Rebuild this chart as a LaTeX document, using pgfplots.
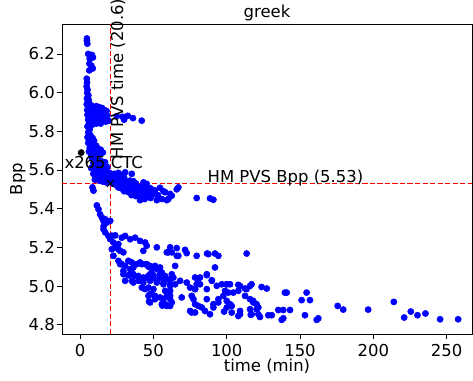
\documentclass[border=0pt]{standalone}
\usepackage{fontspec}
\setmainfont{DejaVu Sans}
\usepackage{pgfplots}
\usepackage{pgfplotstable}
\pgfplotsset{compat=1.18}
\definecolor{mblue}{RGB}{0,0,255}
\definecolor{mred}{RGB}{255,0,0}
\pgfplotstableread{
t b
4.6 6.28
4.6 6.268
4.9 6.253
5.5 6.200
8.0 6.195
8.7 6.182
6.5 6.175
6.3 6.150
7.6 6.140
8.6 6.125
6.2 6.115
4.5 6.072
4.7 6.052
4.4 6.032
5.0 6.015
4.8 5.998
5.6 5.985
4.6 5.970
5.9 5.960
5.2 5.950
4.5 5.940
6.0 5.930
7.5 5.935
9.0 5.925
11.0 5.930
13.0 5.925
15.0 5.920
4.8 5.910
6.5 5.905
8.0 5.900
10.0 5.910
12.0 5.900
14.5 5.905
16.5 5.910
18.0 5.905
5.0 5.885
7.0 5.880
9.0 5.875
11.5 5.880
13.5 5.885
16.0 5.875
18.5 5.880
5.5 5.860
7.5 5.855
10.0 5.855
12.5 5.860
15.0 5.855
17.5 5.850
19.5 5.855
6.0 5.840
8.5 5.835
11.0 5.840
14.0 5.840
25.0 5.878
29.0 5.875
32.5 5.880
36.0 5.868
30.0 5.860
42.0 5.855
5.0 5.825
6.5 5.810
5.5 5.795
7.0 5.780
5.0 5.770
8.5 5.765
6.0 5.755
9.5 5.750
5.5 5.740
7.0 5.735
9.0 5.730
11.0 5.725
6.5 5.715
8.5 5.710
12.0 5.710
14.0 5.705
6.0 5.695
8.0 5.690
10.5 5.690
13.0 5.685
15.5 5.690
7.5 5.675
10.0 5.670
12.5 5.675
8.0 5.660
10.0 5.655
12.0 5.650
14.5 5.645
17.0 5.640
9.0 5.635
11.5 5.630
13.5 5.625
16.0 5.620
18.5 5.615
7.5 5.610
10.0 5.605
12.5 5.600
15.0 5.595
17.5 5.590
20.0 5.585
9.0 5.580
11.0 5.575
14.0 5.570
16.5 5.565
19.0 5.560
21.5 5.555
10.0 5.550
13.0 5.545
15.5 5.540
18.0 5.535
22.0 5.530
30.7 5.588
35.2 5.580
23 5.580
26 5.585
28 5.575
21 5.565
24 5.560
27 5.565
30 5.560
19 5.550
22 5.545
25 5.550
28 5.545
31 5.540
34 5.545
36.3 5.542
24 5.525
26 5.530
29 5.525
32 5.520
35 5.525
38 5.530
43.2 5.536
45.4 5.528
26 5.510
28 5.505
30 5.510
33 5.500
36 5.505
39 5.510
42 5.515
45 5.510
48 5.505
30 5.490
33 5.485
36 5.490
39 5.480
42 5.490
45 5.485
48 5.490
51 5.495
35 5.470
38 5.465
41 5.470
44 5.465
47 5.470
50 5.475
53 5.470
40.9 5.444
44 5.450
48 5.455
52.3 5.444
54.5 5.508
56.8 5.490
58 5.485
61.4 5.476
62.5 5.467
65.9 5.500
67.0 5.510
60.2 5.450
59.1 5.444
55.7 5.450
79.5 5.455
88.6 5.453
90.9 5.446
8.4 5.510
9.1 5.493
11.4 5.417
12.5 5.397
13.6 5.371
14.8 5.354
15.9 5.336
17.1 5.345
18.2 5.328
20.5 5.337
15.9 5.294
17.1 5.277
16.0 5.310
19.3 5.259
20.5 5.242
22.7 5.225
21.6 5.190
23.9 5.200
26.1 5.190
27.3 5.182
29.5 5.174
22.7 5.156
28.4 5.250
30.7 5.259
34.1 5.242
37.5 5.250
40.9 5.233
44.3 5.225
21.6 5.260
23.9 5.262
26.1 5.217
43.1 5.182
45.4 5.208
52.3 5.200
60.2 5.174
61.4 5.200
65.9 5.156
65.9 5.196
71.6 5.187
72.7 5.170
79.5 5.156
86.6 5.168
92.0 5.168
94.3 5.156
113.6 5.168
59.1 5.174
62.5 5.174
67.0 5.156
87.5 5.165
26.1 5.130
28.4 5.113
30.7 5.104
29.5 5.078
32.9 5.130
35.2 5.070
36.3 5.096
40.9 5.122
44.3 5.113
47.7 5.104
52.3 5.087
55.7 5.070
27.3 5.113
34.1 5.087
38.6 5.113
46.6 5.100
48.9 5.087
51.1 5.104
54.5 5.096
64.8 5.104
92.0 5.096
35.2 5.122
42.1 5.113
45.5 5.113
29.5 5.061
32.9 5.056
36.3 5.061
39.7 5.052
43.1 5.044
46.6 5.052
50.0 5.056
54.5 5.044
57.9 5.052
61.4 5.035
30.7 5.027
35.2 5.027
39.7 5.027
43.1 5.018
47.7 5.027
52.3 5.018
56.8 5.009
61.4 5.001
64.8 5.009
35.2 5.061
37.5 5.052
36.3 5.018
43.2 5.035
45.5 5.044
47.7 5.061
50.0 5.044
52.3 5.027
54.5 5.061
55.7 5.044
56.8 5.018
59.1 5.035
62.5 5.061
63.6 5.044
61.4 5.009
68.2 5.027
72.7 5.018
78.4 5.044
81.8 5.044
86.4 5.061
89.8 5.027
80.6 5.018
81.8 5.009
93.2 5.001
96.6 5.009
100.0 5.009
86.4 5.056
89.8 5.030
42.1 4.992
44.3 4.984
46.6 4.992
50.0 4.984
58.0 4.975
61.4 4.975
69.3 4.941
75.0 4.992
78.4 4.984
86.4 4.984
94.3 4.932
47.7 4.958
51.1 4.949
54.5 4.941
56.8 4.932
61.4 4.949
62.5 4.915
47.7 4.915
55.7 4.906
59.1 4.897
77.3 4.932
78.4 4.906
80.6 4.897
83.0 4.889
86.4 4.932
90.9 4.906
94.3 4.915
75.0 4.871
76.1 4.863
85.2 4.871
88.6 4.854
90.9 4.889
46.6 4.949
48.9 4.958
51.1 4.932
59.1 4.949
61.4 4.932
57.9 4.906
61.4 4.897
76.1 4.949
78.4 4.984
79.5 5.009
78.4 4.863
97.7 4.949
100.0 4.889
103.4 4.863
109.1 4.871
109.1 5.000
113.6 4.984
112.5 4.949
117.0 5.009
118.1 4.915
120.4 4.880
117.0 4.854
100.0 5.009
102.3 5.009
107.9 5.006
112.5 4.987
115.9 5.000
123.8 4.995
127.3 4.987
139.7 4.966
140.9 4.966
154.5 4.966
98.9 4.975
101.1 4.966
104.5 4.966
107.9 4.975
100.0 4.923
102.3 4.906
103.4 4.897
115.9 4.932
118.1 4.923
120.4 4.906
121.6 4.889
151.1 4.927
156.8 4.927
115.9 4.880
121.6 4.854
122.7 4.840
109.1 4.854
107.9 4.845
128.4 4.849
130.7 4.849
135.2 4.876
138.6 4.876
143.2 4.876
138.6 4.833
137.5 4.825
153.4 4.849
162.5 4.833
161.4 4.825
47.0 4.920
56.1 4.899
98.2 4.868
116.4 4.851
175.7 4.897
179.5 4.878
196.5 4.878
214.0 4.918
221.1 4.837
225.6 4.868
230.2 4.849
235.6 4.858
245.6 4.828
257.9 4.828
}\pts
\begin{document}
\fontsize{10.3}{12.4}\selectfont
\begin{tikzpicture}
\begin{axis}[
  scale only axis, width=256.6pt, height=194pt,
  xmin=-12.4, xmax=267.4, ymin=4.752, ymax=6.355,
  xtick={0,50,100,150,200,250},
  ytick={4.8,5.0,5.2,5.4,5.6,5.8,6.0,6.2},
  yticklabel style={/pgf/number format/fixed,/pgf/number format/precision=1,/pgf/number format/fixed zerofill, xshift=2.2pt},
  /pgf/number format/assume math mode=true,
  tick align=outside, tick pos=left, major tick length=3pt,
  tick style={black, line width=0.5pt},
  axis line style={line width=0.5pt},
  xlabel={time (min)}, ylabel={Bpp}, title={greek},
  every axis title/.style={at={(0.5,1)}, anchor=base, yshift=3.8pt, inner sep=0pt},
  every axis x label/.style={at={(0.5,0)}, anchor=base, yshift=-23.6pt, inner sep=0pt},
  every axis y label/.style={at={(0,0.5)}, anchor=base, rotate=90, yshift=25pt, inner sep=0pt},
  clip=false,
]
\addplot[only marks, mark=*, mark size=1.9pt, mblue, mark options={draw=mblue, fill=mblue}] table[x=t, y=b] {\pts};
\addplot[draw=mred, line width=1pt, dash pattern=on 3.2pt off 1.5pt] coordinates {(-12.4,5.53) (267.4,5.53)};
\addplot[draw=mred, line width=1pt, dash pattern=on 3.2pt off 1.5pt] coordinates {(20.6,4.752) (20.6,6.355)};
\addplot[only marks, mark=*, mark size=1.9pt, black] coordinates {(0.7,5.69)};
\addplot[only marks, mark=x, mark size=3pt, black, line width=0.6pt] coordinates {(20.6,5.53)};
\coordinate (pA) at (axis cs:-10.9,5.608);
\coordinate (pB) at (axis cs:20.6,5.654);
\coordinate (pC) at (axis cs:86.8,5.533);
\coordinate (ll) at (rel axis cs:0,0);
\coordinate (ur) at (rel axis cs:1,1);
\end{axis}
\node[anchor=base west, inner sep=0pt] at (pA) {x265 CTC};
\node[anchor=north west, rotate=90, inner sep=0pt] at (pB) {HM PVS time (20.6)};
\node[anchor=base west, inner sep=0pt] at (pC) {HM PVS Bpp (5.53)};
\pgfresetboundingbox
\path[use as bounding box] ([shift={(-38.8pt,-29.4pt)}]ll) rectangle ([shift={(0.6pt,15pt)}]ur);
\end{tikzpicture}
\end{document}
